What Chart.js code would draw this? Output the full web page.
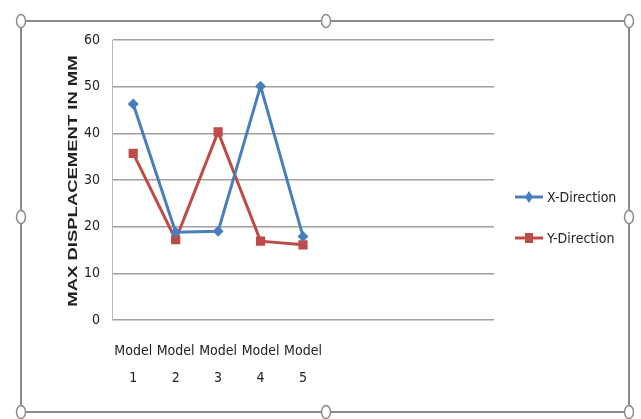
<!DOCTYPE html>
<html lang="en">
<head>
    <meta charset="UTF-8">
    <title>Max Displacement</title>
    <script src="https://cdn.jsdelivr.net/npm/chart.js"></script>
    <style>
        body {
            margin: 0;
            background-color: #ffffff;
        }
        .chart-container {
            position: relative;
            width: 641px;
            height: 419px;
        }
    </style>
</head>
<body>
    <div class="chart-container">
        <canvas id="dispChart"></canvas>
    </div>

    <script>
        // Data (the Excel chart has 9 category slots, only 5 are used)
        const categories = [['Model', '1'], ['Model', '2'], ['Model', '3'], ['Model', '4'], ['Model', '5'], '', '', '', ''];
        const xDirection = [46.3, 18.8, 19.0, 50.1, 17.9];
        const yDirection = [35.7, 17.2, 40.3, 16.9, 16.1];
        const yTicks = [0, 10, 20, 30, 40, 50, 60];
        const seriesNames = ['X-Direction', 'Y-Direction'];
        const yTitle = 'MAX DISPLACEMENT IN MM';

        const blue = '#4a7ebb';
        const red = '#be4b48';
        const tickFont = '"Liberation Sans Narrow", "DejaVu Sans Condensed", Arial, sans-serif';

        // Frame with selection handles, like the one round the Excel chart
        const framePlugin = {
            id: 'frame',
            afterDraw(chart) {
                const ctx = chart.ctx;
                const l = 21, r = 629, t = 21, b = 412;
                const mx = 326, my = 217;
                ctx.save();
                ctx.strokeStyle = '#8c8c8c';
                ctx.lineWidth = 2;
                ctx.beginPath();
                ctx.rect(l, t, r - l, b - t);
                ctx.stroke();
                const handles = [[l, t], [mx, t], [r, t], [l, my], [r, my], [l, b], [mx, b], [r, b]];
                ctx.lineWidth = 1.5;
                handles.forEach(([hx, hy]) => {
                    ctx.beginPath();
                    ctx.ellipse(hx, hy, 4.5, 6.5, 0, 0, Math.PI * 2);
                    ctx.fillStyle = '#ffffff';
                    ctx.fill();
                    ctx.stroke();
                });
                ctx.restore();
            }
        };

        // Y axis title, stretched along its length as in the picture
        const titlePlugin = {
            id: 'yTitle',
            afterDraw(chart) {
                const ctx = chart.ctx;
                const area = chart.chartArea;
                ctx.save();
                ctx.translate(73, (area.top + area.bottom) / 2 + 1);
                ctx.rotate(-Math.PI / 2);
                ctx.scale(1.42, 1);
                ctx.fillStyle = '#222222';
                ctx.font = 'bold 13px Arial, "Liberation Sans", sans-serif';
                ctx.textAlign = 'center';
                ctx.textBaseline = 'middle';
                ctx.fillText(yTitle, 0, 0);
                ctx.restore();
            }
        };

        // Legend drawn as line + marker, Excel style
        const legendPlugin = {
            id: 'lineLegend',
            afterDraw(chart) {
                const ctx = chart.ctx;
                const x0 = 515, x1 = 543;
                const rows = [197, 238];
                ctx.save();
                chart.data.datasets.forEach((ds, i) => {
                    const y = rows[i];
                    ctx.strokeStyle = ds.borderColor;
                    ctx.lineWidth = 3;
                    ctx.beginPath();
                    ctx.moveTo(x0, y);
                    ctx.lineTo(x1, y);
                    ctx.stroke();
                    ctx.fillStyle = ds.borderColor;
                    const cx = (x0 + x1) / 2;
                    ctx.beginPath();
                    if (ds.pointStyle === 'rectRot') {
                        ctx.moveTo(cx, y - 6);
                        ctx.lineTo(cx + 4, y);
                        ctx.lineTo(cx, y + 6);
                        ctx.lineTo(cx - 4, y);
                    } else {
                        ctx.rect(cx - 4, y - 5, 8, 10);
                    }
                    ctx.closePath();
                    ctx.fill();
                    ctx.fillStyle = '#222222';
                    ctx.font = '14px ' + tickFont;
                    ctx.textBaseline = 'middle';
                    ctx.fillText(ds.label, x1 + 4, y + 1);
                });
                ctx.restore();
            }
        };

        const ctx = document.getElementById('dispChart').getContext('2d');
        const chart = new Chart(ctx, {
            type: 'line',
            data: {
                labels: categories,
                datasets: [{
                    label: seriesNames[0],
                    data: xDirection,
                    borderColor: blue,
                    backgroundColor: blue,
                    borderWidth: 3,
                    pointStyle: 'rectRot',
                    pointRadius: 5.5,
                    pointBorderWidth: 0,
                    tension: 0
                }, {
                    label: seriesNames[1],
                    data: yDirection,
                    borderColor: red,
                    backgroundColor: red,
                    borderWidth: 3,
                    pointStyle: 'rect',
                    pointRadius: 6.5,
                    pointBorderWidth: 0,
                    tension: 0
                }]
            },
            options: {
                responsive: true,
                maintainAspectRatio: false,
                animation: false,
                layout: {
                    padding: { top: 40, right: 147, left: 0, bottom: 0 }
                },
                scales: {
                    x: {
                        offset: true,
                        grid: { display: false },
                        border: { display: false },
                        ticks: {
                            color: '#222222',
                            maxRotation: 0,
                            autoSkip: false,
                            padding: 10,
                            font: { family: tickFont, size: 14, lineHeight: 1.9 }
                        },
                        afterFit(scale) { scale.height = 99; }
                    },
                    y: {
                        min: 0,
                        max: 60,
                        afterBuildTicks(scale) {
                            scale.ticks = yTicks.map(v => ({ value: v }));
                        },
                        grid: {
                            color: '#a0a0a0',
                            lineWidth: 1.5,
                            drawTicks: false
                        },
                        border: { display: true, color: '#b8b8b8', width: 1 },
                        ticks: {
                            color: '#222222',
                            padding: 12,
                            font: { family: tickFont, size: 14 }
                        },
                        afterFit(scale) { scale.width = 112; }
                    }
                },
                plugins: {
                    legend: { display: false },
                    tooltip: { enabled: false }
                }
            },
            plugins: [legendPlugin, titlePlugin, framePlugin]
        });
    </script>
</body>
</html>
